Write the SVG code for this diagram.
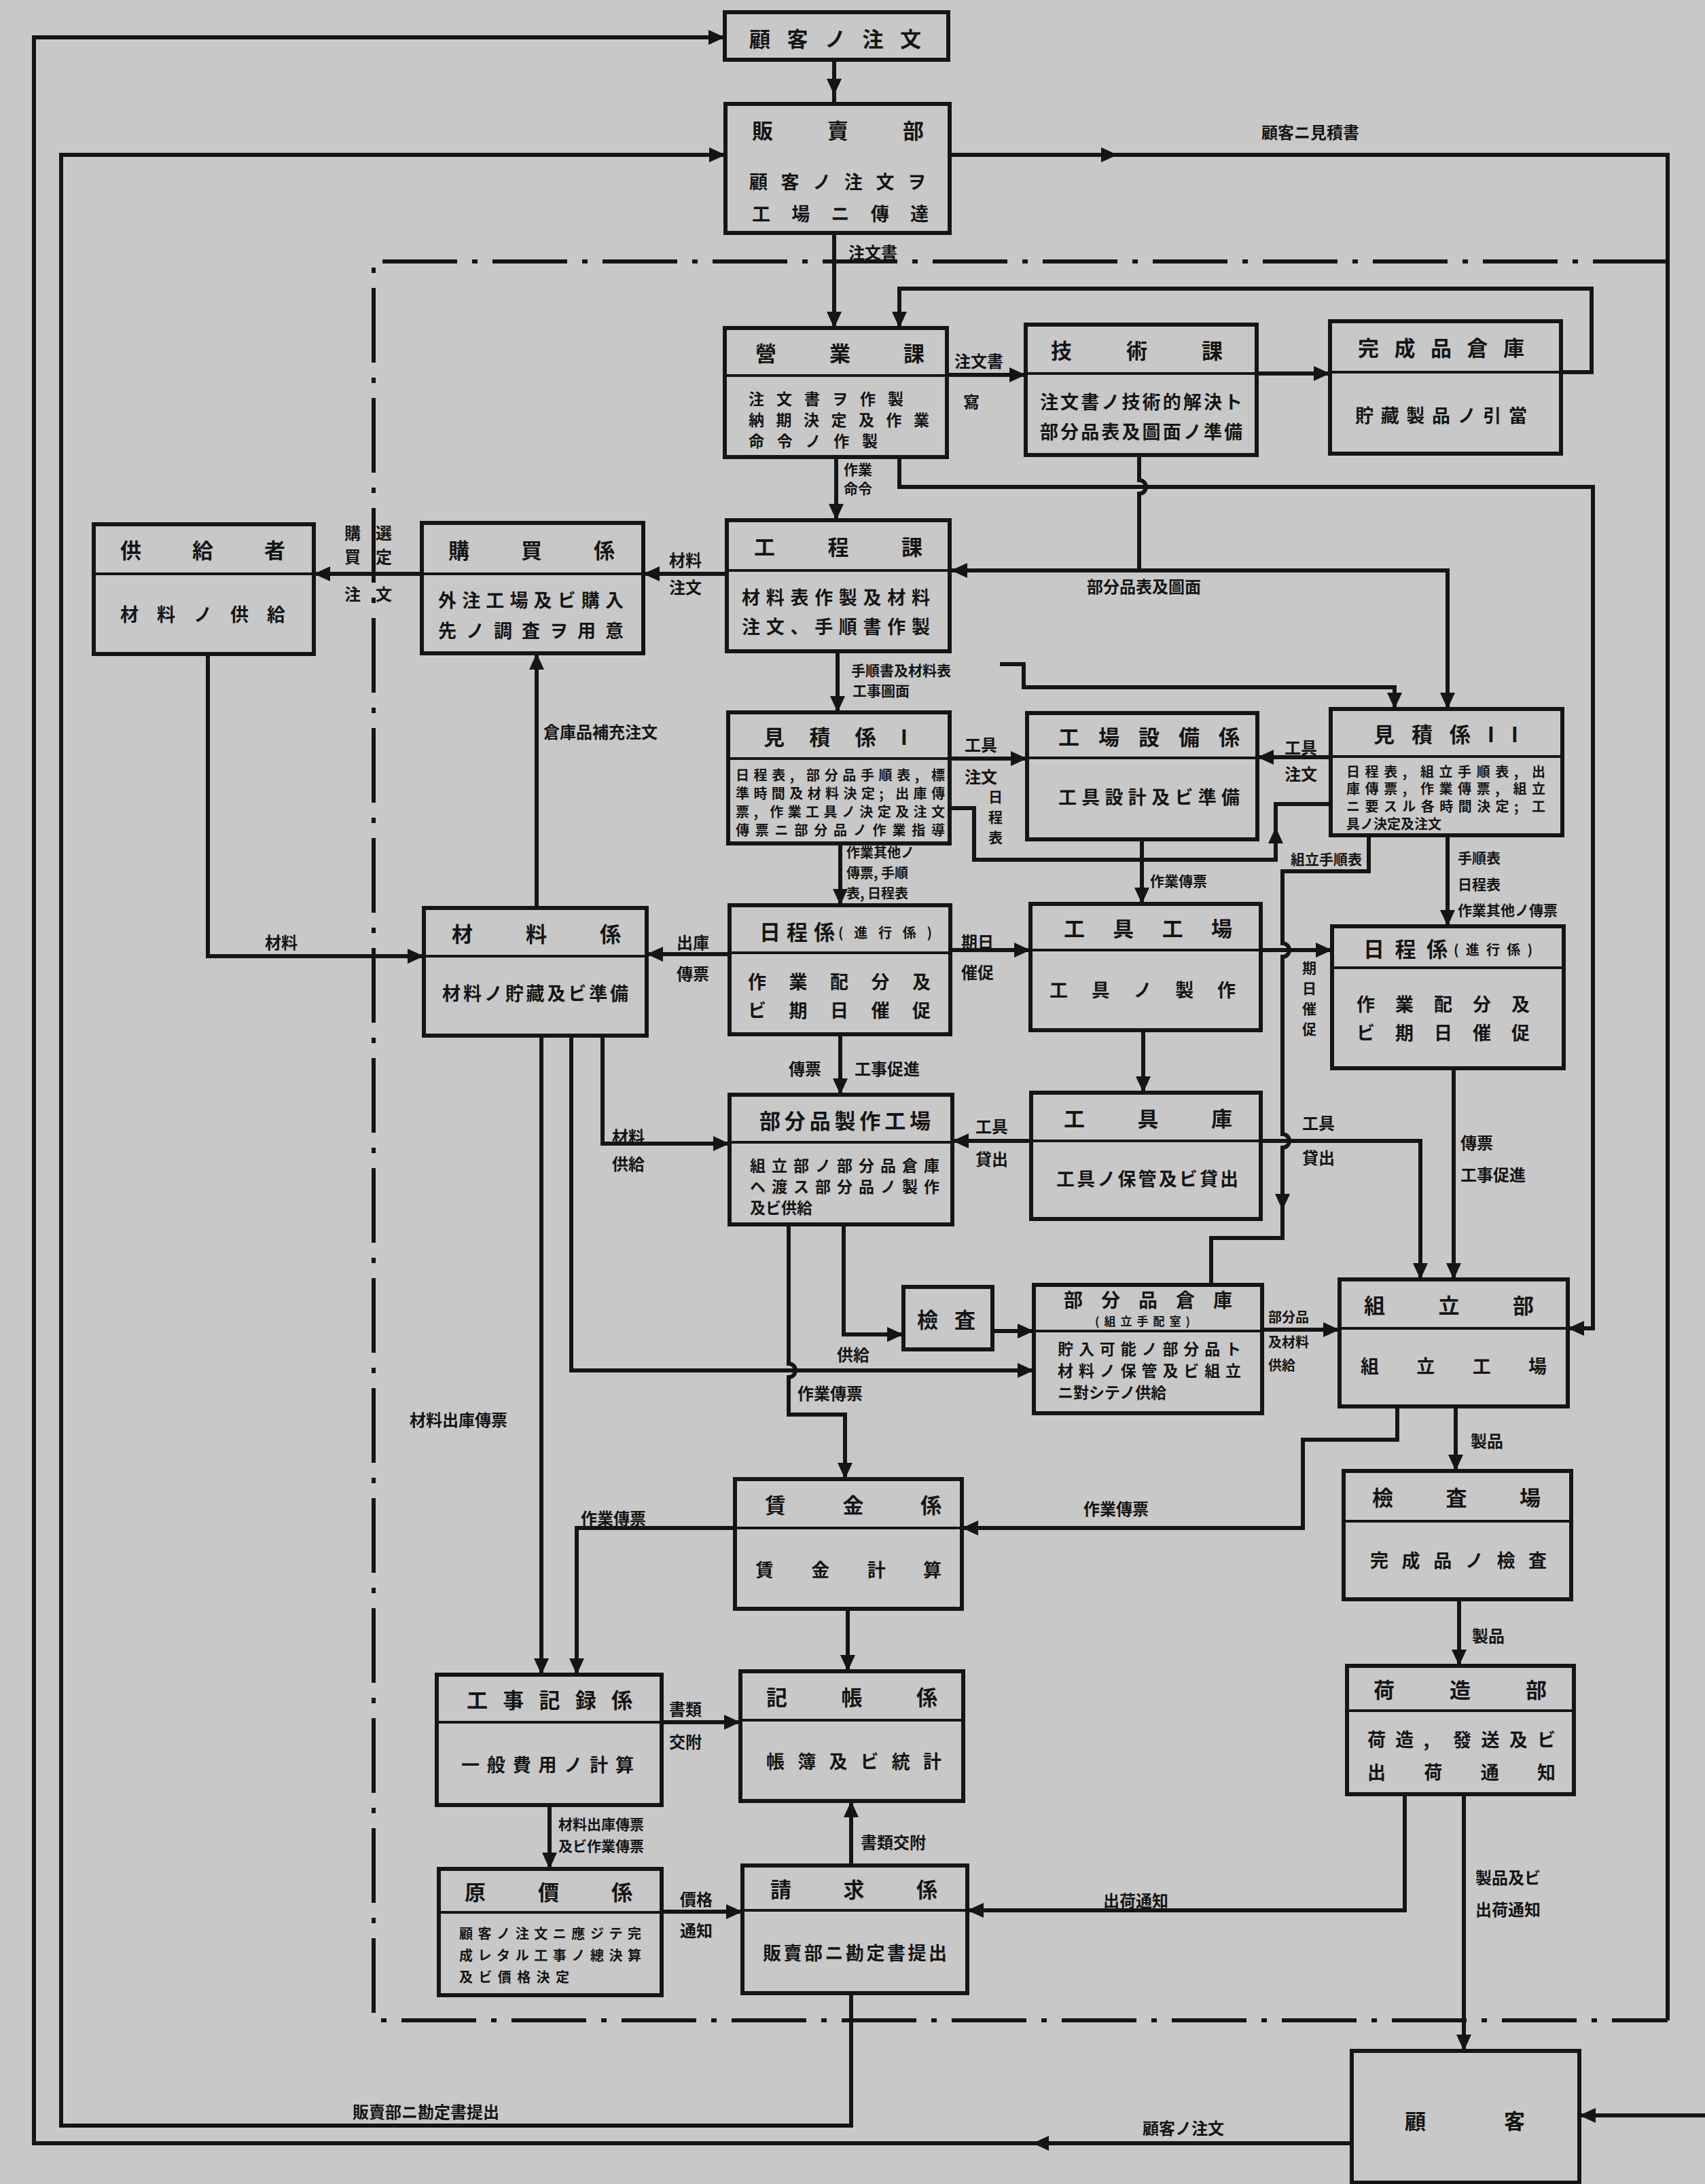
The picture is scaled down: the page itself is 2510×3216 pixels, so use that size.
<svg xmlns="http://www.w3.org/2000/svg" xmlns:xlink="http://www.w3.org/1999/xlink" width="2510" height="3216" viewBox="0 0 2510 3216">
<style>
.bx{fill:none;stroke:#151515;stroke-width:6}
.dv{stroke:#151515;stroke-width:4}
.ln{fill:none;stroke:#151515;stroke-width:6}
.dd{fill:none;stroke:#151515;stroke-width:6;stroke-dasharray:110 22 8 22}
text{font-family:"Noto Sans CJK JP","Noto Sans CJK SC",sans-serif;font-weight:700;fill:#151515;dominant-baseline:central}
.t{font-size:31px}
.b{font-size:27px}
.m{font-size:23px}
.s{font-size:20px}
.l{font-size:24px}
.v{font-size:21px}
.ah{fill:#151515}
</style>
<defs>
<path id="ah" class="ah" d="M0,0 L-24,-11 L-24,11 Z"/>
</defs>
<rect x="0" y="0" width="2510" height="3216" fill="#c8c8c8"/>

<g id="connectors">
<path class="dd" d="M2455,385 H550 V2975 H2455"/>
<path class="ln" d="M1990,3156 H50 V55 H1067"/>
<use href="#ah" transform="translate(1067,55)"/>
<use href="#ah" transform="translate(1520,3156) rotate(180)"/>
<path class="ln" d="M1253,2935 V3130 H90 V228 H1068"/>
<use href="#ah" transform="translate(1068,228)"/>
<path class="ln" d="M1398,228 H2455 V2975"/>
<use href="#ah" transform="translate(1645,228)"/>
<path class="ln" d="M2510,3115 H2325"/>
<use href="#ah" transform="translate(2325,3115) rotate(180)"/>
<path class="ln" d="M1228,88 V153"/>
<use href="#ah" transform="translate(1228,140) rotate(90)"/>
<path class="ln" d="M1228,343 V483"/>
<use href="#ah" transform="translate(1228,483) rotate(90)"/>
<path class="ln" d="M1394,552 H1510"/>
<use href="#ah" transform="translate(1510,552)"/>
<path class="ln" d="M1850,550 H1958"/>
<use href="#ah" transform="translate(1958,550)"/>
<path class="ln" d="M2298,548 H2343 V425 H1324 V483"/>
<use href="#ah" transform="translate(1324,483) rotate(90)"/>
<path class="ln" d="M1231,673 V766"/>
<use href="#ah" transform="translate(1231,766) rotate(90)"/>
<path class="ln" d="M1324,673 V717 H2345 V1956 H2308"/>
<use href="#ah" transform="translate(2308,1956) rotate(180)"/>
<path class="ln" d="M1677,670 V707 a10,10 0 0 1 0,20 V840"/>
<path class="ln" d="M1398,840 H2131 V1044"/>
<use href="#ah" transform="translate(1400,840) rotate(180)"/>
<use href="#ah" transform="translate(2131,1044) rotate(90)"/>
<path class="ln" d="M1070,845 H947"/>
<use href="#ah" transform="translate(947,845) rotate(180)"/>
<path class="ln" d="M621,845 H462"/>
<use href="#ah" transform="translate(462,845) rotate(180)"/>
<path class="ln" d="M306,963 V1408 H624"/>
<use href="#ah" transform="translate(624,1408)"/>
<path class="ln" d="M790,1337 V962"/>
<use href="#ah" transform="translate(790,962) rotate(270)"/>
<path class="ln" d="M1233,959 V1049"/>
<use href="#ah" transform="translate(1233,1049) rotate(90)"/>
<path class="ln" d="M1472,978 H1507 V1012 H2053 V1044"/>
<use href="#ah" transform="translate(2053,1044) rotate(90)"/>
<path class="ln" d="M1398,1117 H1512"/>
<use href="#ah" transform="translate(1512,1117)"/>
<path class="ln" d="M1959,1115 H1851"/>
<use href="#ah" transform="translate(1851,1115) rotate(180)"/>
<path class="ln" d="M1398,1190 H1434 V1266 H1878 V1184 H1959"/>
<use href="#ah" transform="translate(1878,1218) rotate(270)"/>
<path class="ln" d="M1681,1236 V1331"/>
<use href="#ah" transform="translate(1681,1331) rotate(90)"/>
<path class="ln" d="M2015,1230 V1283 H1888 V1389 a10,10 0 0 1 0,20 V1670 a10,10 0 0 1 0,20 V1823 H1783 V1892"/>
<use href="#ah" transform="translate(1888,1782) rotate(90)"/>
<path class="ln" d="M2131,1230 V1364"/>
<use href="#ah" transform="translate(2131,1364) rotate(90)"/>
<path class="ln" d="M1237,1242 V1333"/>
<use href="#ah" transform="translate(1237,1333) rotate(90)"/>
<path class="ln" d="M1074,1405 H952"/>
<use href="#ah" transform="translate(952,1405) rotate(180)"/>
<path class="ln" d="M1399,1399 H1517"/>
<use href="#ah" transform="translate(1517,1399)"/>
<path class="ln" d="M1856,1399 H1961"/>
<use href="#ah" transform="translate(1961,1399)"/>
<path class="ln" d="M1237,1523 V1612"/>
<use href="#ah" transform="translate(1237,1612) rotate(90)"/>
<path class="ln" d="M887,1525 V1684 H1074"/>
<use href="#ah" transform="translate(1074,1684)"/>
<path class="ln" d="M1518,1680 H1402"/>
<use href="#ah" transform="translate(1402,1680) rotate(180)"/>
<path class="ln" d="M1683,1517 V1609"/>
<use href="#ah" transform="translate(1683,1609) rotate(90)"/>
<path class="ln" d="M1856,1680 H2091 V1884"/>
<use href="#ah" transform="translate(2091,1884) rotate(90)"/>
<path class="ln" d="M2140,1573 V1884"/>
<use href="#ah" transform="translate(2140,1884) rotate(90)"/>
<path class="ln" d="M841,1525 V2018 H1522"/>
<use href="#ah" transform="translate(1522,2018)"/>
<path class="ln" d="M1242,1803 V1965 H1330"/>
<use href="#ah" transform="translate(1330,1965)"/>
<path class="ln" d="M1461,1960 H1522"/>
<use href="#ah" transform="translate(1522,1960)"/>
<path class="ln" d="M1161,1803 V2008 a10,10 0 0 1 0,20 V2083 H1244 V2178"/>
<use href="#ah" transform="translate(1244,2178) rotate(90)"/>
<path class="ln" d="M1858,1958 H1972"/>
<use href="#ah" transform="translate(1972,1958)"/>
<path class="ln" d="M797,1525 V2466"/>
<use href="#ah" transform="translate(797,2466) rotate(90)"/>
<path class="ln" d="M2143,2071 V2166"/>
<use href="#ah" transform="translate(2143,2166) rotate(90)"/>
<path class="ln" d="M2057,2071 V2120 H1918 V2250 H1416"/>
<use href="#ah" transform="translate(1416,2250) rotate(180)"/>
<path class="ln" d="M2148,2355 V2453"/>
<use href="#ah" transform="translate(2148,2453) rotate(90)"/>
<path class="ln" d="M2068,2642 V2813 H1424"/>
<use href="#ah" transform="translate(1424,2813) rotate(180)"/>
<path class="ln" d="M2155,2642 V3020"/>
<use href="#ah" transform="translate(2155,3020) rotate(90)"/>
<path class="ln" d="M1082,2250 H849 V2466"/>
<use href="#ah" transform="translate(849,2466) rotate(90)"/>
<path class="ln" d="M1248,2369 V2461"/>
<use href="#ah" transform="translate(1248,2461) rotate(90)"/>
<path class="ln" d="M974,2536 H1090"/>
<use href="#ah" transform="translate(1090,2536)"/>
<path class="ln" d="M809,2658 V2752"/>
<use href="#ah" transform="translate(809,2752) rotate(90)"/>
<path class="ln" d="M974,2815 H1093"/>
<use href="#ah" transform="translate(1093,2815)"/>
<path class="ln" d="M1253,2747 V2652"/>
<use href="#ah" transform="translate(1253,2652) rotate(270)"/>

<text class="l" x="1249" y="370">注文書</text>
<text class="l" x="1857" y="193">顧客ニ見積書</text>
<text class="l" x="1405" y="530">注文書</text>
<text class="l" x="1418" y="590">寫</text>
<text class="v" x="1242" y="690">作業</text>
<text class="v" x="1242" y="718">命令</text>
<text class="l" x="1600" y="862">部分品表及圖面</text>
<text class="l" x="985" y="823">材料</text>
<text class="l" x="985" y="863">注文</text>
<text class="l" x="507" y="783">購</text>
<text class="l" x="507" y="818">買</text>
<text class="l" x="507" y="873">注</text>
<text class="l" x="553" y="783">選</text>
<text class="l" x="553" y="818">定</text>
<text class="l" x="553" y="873">文</text>
<text class="l" x="390" y="1386">材料</text>
<text class="l" x="800" y="1076">倉庫品補充注文</text>
<text class="v" x="1253" y="986">手順書及材料表</text>
<text class="v" x="1255" y="1016">工事圖面</text>
<text class="l" x="1420" y="1095">工具</text>
<text class="l" x="1420" y="1142">注文</text>
<text class="v" x="1455" y="1172">日</text>
<text class="v" x="1455" y="1202">程</text>
<text class="v" x="1455" y="1232">表</text>
<text class="l" x="1891" y="1099">工具</text>
<text class="l" x="1891" y="1138">注文</text>
<text class="s" x="1246" y="1254">作業其他ノ</text>
<text class="s" x="1246" y="1284">傳票, 手順</text>
<text class="s" x="1246" y="1314">表, 日程表</text>
<text class="v" x="1693" y="1296">作業傳票</text>
<text class="v" x="1900" y="1264">組立手順表</text>
<text class="v" x="2146" y="1262">手順表</text>
<text class="v" x="2146" y="1301">日程表</text>
<text class="v" x="2146" y="1339">作業其他ノ傳票</text>
<text class="l" x="996" y="1386">出庫</text>
<text class="l" x="996" y="1432">傳票</text>
<text class="l" x="1415" y="1385">期日</text>
<text class="l" x="1415" y="1430">催促</text>
<text class="v" x="1917" y="1424">期</text>
<text class="v" x="1917" y="1454">日</text>
<text class="v" x="1917" y="1484">催</text>
<text class="v" x="1917" y="1514">促</text>
<text class="l" x="1161" y="1572">傳票</text>
<text class="l" x="1258" y="1572">工事促進</text>
<text class="l" x="901" y="1672">材料</text>
<text class="l" x="901" y="1712">供給</text>
<text class="l" x="1436" y="1657">工具</text>
<text class="l" x="1436" y="1705">貸出</text>
<text class="l" x="1917" y="1652">工具</text>
<text class="l" x="1917" y="1703">貸出</text>
<text class="l" x="2150" y="1681">傳票</text>
<text class="l" x="2150" y="1728">工事促進</text>
<text class="l" x="1232" y="1993">供給</text>
<text class="l" x="1174" y="2050">作業傳票</text>
<text class="s" x="1867" y="1938">部分品</text>
<text class="s" x="1867" y="1975">及材料</text>
<text class="s" x="1867" y="2009">供給</text>
<text class="l" x="2165" y="2120">製品</text>
<text class="l" x="2167" y="2407">製品</text>
<text class="l" x="603" y="2089">材料出庫傳票</text>
<text class="l" x="855" y="2234">作業傳票</text>
<text class="l" x="1595" y="2220">作業傳票</text>
<text class="l" x="985" y="2515">書類</text>
<text class="l" x="985" y="2563">交附</text>
<text class="v" x="822" y="2685">材料出庫傳票</text>
<text class="v" x="822" y="2717">及ビ作業傳票</text>
<text class="l" x="1267" y="2711">書類交附</text>
<text class="l" x="1001" y="2795">價格</text>
<text class="l" x="1001" y="2841">通知</text>
<text class="l" x="1624" y="2797">出荷通知</text>
<text class="l" x="2172" y="2763">製品及ビ</text>
<text class="l" x="2172" y="2810">出荷通知</text>
<text class="l" x="519" y="3108">販賣部ニ勘定書提出</text>
<text class="l" x="1682" y="3132">顧客ノ注文</text>
</g>

<g id="n_order"><rect class="bx" x="1067" y="18" width="329" height="70"/>
<text class="t" x="1103" y="55" textLength="253" lengthAdjust="spacing">顧客ノ注文</text></g>

<g id="n_hanbai"><rect class="bx" x="1068" y="153" width="330" height="190"/>
<text class="t" x="1107" y="190" textLength="253" lengthAdjust="spacing">販賣部</text>
<text class="b" x="1103" y="266" textLength="260" lengthAdjust="spacing">顧客ノ注文ヲ</text>
<text class="b" x="1107" y="313" textLength="260" lengthAdjust="spacing">工場ニ傳達</text></g>

<g id="n_eigyo"><rect class="bx" x="1067" y="483" width="327" height="190"/><line class="dv" x1="1067" y1="553" x2="1394" y2="553"/>
<text class="t" x="1112" y="518" textLength="249" lengthAdjust="spacing">營業課</text>
<text class="m" x="1102" y="586" textLength="228" lengthAdjust="spacing">注文書ヲ作製</text>
<text class="m" x="1102" y="617" textLength="266" lengthAdjust="spacing">納期決定及作業</text>
<text class="m" x="1102" y="648" textLength="190" lengthAdjust="spacing">命令ノ作製</text></g>

<g id="n_gijutsu"><rect class="bx" x="1510" y="478" width="340" height="192"/><line class="dv" x1="1510" y1="550" x2="1850" y2="550"/>
<text class="t" x="1547" y="514" textLength="253" lengthAdjust="spacing">技術課</text>
<text class="b" x="1531" y="590" textLength="298" lengthAdjust="spacing">注文書ノ技術的解決ト</text>
<text class="b" x="1531" y="634" textLength="298" lengthAdjust="spacing">部分品表及圖面ノ準備</text></g>

<g id="n_kansei"><rect class="bx" x="1958" y="473" width="340" height="195"/><line class="dv" x1="1958" y1="548" x2="2298" y2="548"/>
<text class="t" x="1999" y="510" textLength="245" lengthAdjust="spacing">完成品倉庫</text>
<text class="b" x="1995" y="610" textLength="253" lengthAdjust="spacing">貯藏製品ノ引當</text></g>

<g id="n_kyokyu"><rect class="bx" x="138" y="772" width="324" height="191"/><line class="dv" x1="138" y1="845" x2="462" y2="845"/>
<text class="t" x="177" y="808" textLength="243" lengthAdjust="spacing">供給者</text>
<text class="b" x="177" y="903" textLength="243" lengthAdjust="spacing">材料ノ供給</text></g>

<g id="n_kobai"><rect class="bx" x="621" y="770" width="326" height="192"/><line class="dv" x1="621" y1="845" x2="947" y2="845"/>
<text class="t" x="660" y="808" textLength="245" lengthAdjust="spacing">購買係</text>
<text class="b" x="645" y="882" textLength="273" lengthAdjust="spacing">外注工場及ビ購入</text>
<text class="b" x="645" y="927" textLength="273" lengthAdjust="spacing">先ノ調査ヲ用意</text></g>

<g id="n_kotei"><rect class="bx" x="1070" y="766" width="328" height="193"/><line class="dv" x1="1070" y1="840" x2="1398" y2="840"/>
<text class="t" x="1110" y="803" textLength="248" lengthAdjust="spacing">工程課</text>
<text class="b" x="1092" y="878" textLength="277" lengthAdjust="spacing">材料表作製及材料</text>
<text class="b" x="1092" y="921" textLength="277" lengthAdjust="spacing">注文、手順書作製</text></g>

<g id="n_mitsumori1"><rect class="bx" x="1072" y="1049" width="326" height="193"/><line class="dv" x1="1072" y1="1117" x2="1398" y2="1117"/>
<text class="t" x="1124" y="1083" textLength="212" lengthAdjust="spacing">見積係I</text>
<text class="s" x="1083" y="1140" textLength="308" lengthAdjust="spacing">日程表, 部分品手順表, 標</text>
<text class="s" x="1083" y="1167" textLength="308" lengthAdjust="spacing">準時間及材料決定; 出庫傳</text>
<text class="s" x="1083" y="1194" textLength="308" lengthAdjust="spacing">票, 作業工具ノ決定及注文</text>
<text class="s" x="1083" y="1221" textLength="308" lengthAdjust="spacing">傳票ニ部分品ノ作業指導</text></g>

<g id="n_setsubi"><rect class="bx" x="1512" y="1050" width="339" height="186"/><line class="dv" x1="1512" y1="1116" x2="1851" y2="1116"/>
<text class="t" x="1558" y="1083" textLength="267" lengthAdjust="spacing">工場設備係</text>
<text class="b" x="1558" y="1172" textLength="267" lengthAdjust="spacing">工具設計及ビ準備</text></g>

<g id="n_mitsumori2"><rect class="bx" x="1959" y="1044" width="341" height="186"/><line class="dv" x1="1959" y1="1114" x2="2300" y2="1114"/>
<text class="t" x="2022" y="1079" textLength="213" lengthAdjust="spacing">見積係II</text>
<text class="s" x="1982" y="1135" textLength="293" lengthAdjust="spacing">日程表, 組立手順表, 出</text>
<text class="s" x="1982" y="1160" textLength="293" lengthAdjust="spacing">庫傳票, 作業傳票, 組立</text>
<text class="s" x="1982" y="1186" textLength="293" lengthAdjust="spacing">ニ要スル各時間決定; 工</text>
<text class="s" x="1982" y="1212">具ノ決定及注文</text></g>

<g id="n_zairyo"><rect class="bx" x="624" y="1337" width="328" height="188"/><line class="dv" x1="624" y1="1408" x2="952" y2="1408"/>
<text class="t" x="665" y="1373" textLength="249" lengthAdjust="spacing">材料係</text>
<text class="b" x="651" y="1461" textLength="274" lengthAdjust="spacing">材料ノ貯藏及ビ準備</text></g>

<g id="n_nittei1"><rect class="bx" x="1074" y="1333" width="325" height="190"/><line class="dv" x1="1074" y1="1403" x2="1399" y2="1403"/>
<text class="t" x="1118" y="1370" textLength="111" lengthAdjust="spacing">日程係</text>
<text class="s" x="1234" y="1372" textLength="138" lengthAdjust="spacing">(進行係)</text>
<text class="b" x="1101" y="1444" textLength="269" lengthAdjust="spacing">作業配分及</text>
<text class="b" x="1101" y="1486" textLength="269" lengthAdjust="spacing">ビ期日催促</text></g>

<g id="n_kogukojo"><rect class="bx" x="1517" y="1331" width="339" height="186"/><line class="dv" x1="1517" y1="1399" x2="1856" y2="1399"/>
<text class="t" x="1566" y="1365" textLength="248" lengthAdjust="spacing">工具工場</text>
<text class="b" x="1545" y="1456" textLength="274" lengthAdjust="spacing">工具ノ製作</text></g>

<g id="n_nittei2"><rect class="bx" x="1961" y="1364" width="341" height="209"/><line class="dv" x1="1961" y1="1425" x2="2302" y2="1425"/>
<text class="t" x="2007" y="1395" textLength="124" lengthAdjust="spacing">日程係</text>
<text class="s" x="2140" y="1397" textLength="116" lengthAdjust="spacing">(進行係)</text>
<text class="b" x="1997" y="1477" textLength="255" lengthAdjust="spacing">作業配分及</text>
<text class="b" x="1997" y="1519" textLength="255" lengthAdjust="spacing">ビ期日催促</text></g>

<g id="n_buhinseisaku"><rect class="bx" x="1074" y="1612" width="328" height="191"/><line class="dv" x1="1074" y1="1682" x2="1402" y2="1682"/>
<text class="t" x="1118" y="1648" textLength="252" lengthAdjust="spacing">部分品製作工場</text>
<text class="m" x="1104" y="1715" textLength="279" lengthAdjust="spacing">組立部ノ部分品倉庫</text>
<text class="m" x="1104" y="1746" textLength="279" lengthAdjust="spacing">ヘ渡ス部分品ノ製作</text>
<text class="m" x="1104" y="1777">及ビ供給</text></g>

<g id="n_koguko"><rect class="bx" x="1518" y="1609" width="338" height="186"/><line class="dv" x1="1518" y1="1680" x2="1856" y2="1680"/>
<text class="t" x="1566" y="1645" textLength="248" lengthAdjust="spacing">工具庫</text>
<text class="b" x="1555" y="1734" textLength="268" lengthAdjust="spacing">工具ノ保管及ビ貸出</text></g>

<g id="n_kensa"><rect class="bx" x="1330" y="1895" width="131" height="92"/>
<text class="t" x="1350" y="1941" textLength="86" lengthAdjust="spacing">檢査</text></g>

<g id="n_buhinsoko"><rect class="bx" x="1522" y="1892" width="336" height="189"/><line class="dv" x1="1522" y1="1960" x2="1858" y2="1960"/>
<text class="m" x="1566" y="1913" textLength="248" lengthAdjust="spacing" style="font-size:28px">部分品倉庫</text>
<text class="s" x="1612" y="1944" textLength="140" lengthAdjust="spacing" style="font-size:17px">(組立手配室)</text>
<text class="m" x="1557" y="1985" textLength="270" lengthAdjust="spacing">貯入可能ノ部分品ト</text>
<text class="m" x="1557" y="2017" textLength="270" lengthAdjust="spacing">材料ノ保管及ビ組立</text>
<text class="m" x="1557" y="2049">ニ對シテノ供給</text></g>

<g id="n_kumitate"><rect class="bx" x="1972" y="1884" width="336" height="187"/><line class="dv" x1="1972" y1="1956" x2="2308" y2="1956"/>
<text class="t" x="2008" y="1920" textLength="250" lengthAdjust="spacing">組立部</text>
<text class="b" x="2003" y="2010" textLength="274" lengthAdjust="spacing">組立工場</text></g>

<g id="n_kensajo"><rect class="bx" x="1978" y="2166" width="335" height="189"/><line class="dv" x1="1978" y1="2240" x2="2313" y2="2240"/>
<text class="t" x="2020" y="2203" textLength="248" lengthAdjust="spacing">檢査場</text>
<text class="b" x="2017" y="2296" textLength="260" lengthAdjust="spacing">完成品ノ檢査</text></g>

<g id="n_nizukuri"><rect class="bx" x="1983" y="2453" width="334" height="189"/><line class="dv" x1="1983" y1="2519" x2="2317" y2="2519"/>
<text class="t" x="2022" y="2486" textLength="255" lengthAdjust="spacing">荷造部</text>
<text class="b" x="2013" y="2560" textLength="277" lengthAdjust="spacing">荷造, 發送及ビ</text>
<text class="b" x="2013" y="2608" textLength="277" lengthAdjust="spacing">出荷通知</text></g>

<g id="n_kokyaku"><rect class="bx" x="1990" y="3020" width="335" height="194"/>
<text class="t" x="2068" y="3121" textLength="177" lengthAdjust="spacing">顧客</text></g>

<g id="n_chingin"><rect class="bx" x="1082" y="2178" width="334" height="191"/><line class="dv" x1="1082" y1="2250" x2="1416" y2="2250"/>
<text class="t" x="1126" y="2214" textLength="260" lengthAdjust="spacing">賃金係</text>
<text class="b" x="1112" y="2310" textLength="274" lengthAdjust="spacing">賃金計算</text></g>

<g id="n_kojikiroku"><rect class="bx" x="643" y="2466" width="331" height="192"/><line class="dv" x1="643" y1="2536" x2="974" y2="2536"/>
<text class="t" x="687" y="2501" textLength="244" lengthAdjust="spacing">工事記録係</text>
<text class="b" x="679" y="2597" textLength="254" lengthAdjust="spacing">一般費用ノ計算</text></g>

<g id="n_kicho"><rect class="bx" x="1090" y="2461" width="328" height="191"/><line class="dv" x1="1090" y1="2533" x2="1418" y2="2533"/>
<text class="t" x="1128" y="2497" textLength="252" lengthAdjust="spacing">記帳係</text>
<text class="b" x="1128" y="2592" textLength="258" lengthAdjust="spacing">帳簿及ビ統計</text></g>

<g id="n_genka"><rect class="bx" x="646" y="2752" width="328" height="186"/><line class="dv" x1="646" y1="2816" x2="974" y2="2816"/>
<text class="t" x="684" y="2784" textLength="247" lengthAdjust="spacing">原價係</text>
<text class="s" x="676" y="2846" textLength="268" lengthAdjust="spacing">顧客ノ注文ニ應ジテ完</text>
<text class="s" x="676" y="2878" textLength="268" lengthAdjust="spacing">成レタル工事ノ總決算</text>
<text class="s" x="676" y="2910" textLength="162" lengthAdjust="spacing">及ビ價格決定</text></g>

<g id="n_seikyu"><rect class="bx" x="1093" y="2747" width="331" height="188"/><line class="dv" x1="1093" y1="2813" x2="1424" y2="2813"/>
<text class="t" x="1134" y="2780" textLength="246" lengthAdjust="spacing">請求係</text>
<text class="b" x="1123" y="2874" textLength="271" lengthAdjust="spacing">販賣部ニ勘定書提出</text></g>
</svg>
